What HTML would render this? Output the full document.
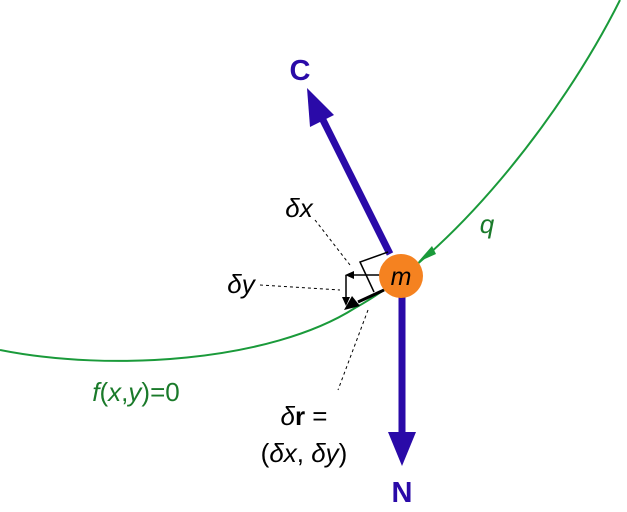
<!DOCTYPE html><html><head><style>body{margin:0;background:#fff}svg{display:block}</style></head><body>
<svg width="627" height="512" xmlns="http://www.w3.org/2000/svg" font-family="Liberation Sans, sans-serif">
<path d="M0,350 C110,372 270,362 355,308 C450,256 560,120 620,0" fill="none" stroke="#1a9a3a" stroke-width="2"/>
<polygon points="418,262 432,246 436,254" fill="#1a9a3a"/>
<line x1="390" y1="254" x2="322" y2="118" stroke="#2a0aa8" stroke-width="7"/>
<polygon points="307,88 334,115 310,127" fill="#2a0aa8"/>
<line x1="402" y1="296" x2="402" y2="438" stroke="#2a0aa8" stroke-width="7"/>
<polygon points="388,432 416,432 402,466" fill="#2a0aa8"/>
<g stroke="#000" stroke-width="1" stroke-dasharray="3,3" fill="none">
<line x1="315" y1="220" x2="350" y2="265"/>
<line x1="260" y1="285" x2="340" y2="290"/>
<line x1="368" y1="310" x2="338" y2="390"/>
</g>
<g stroke="#000" stroke-width="1.5" fill="none">
<polyline points="388,252 360,262 374,292"/>
<line x1="380" y1="275" x2="352" y2="275"/>
<line x1="346" y1="275" x2="346" y2="300"/>
<line x1="384" y1="290" x2="358" y2="302" stroke-width="3"/>
</g>
<polygon points="345,275 354,271 354,279" fill="#000"/>
<polygon points="346,306 342,297 350,297" fill="#000"/>
<polygon points="344,310 352,296 360,306" fill="#000"/>
<circle cx="401" cy="276" r="22" fill="#f58220"/>
<text x="401" y="285" font-size="25" font-style="italic" text-anchor="middle">m</text>
<text x="300" y="80" font-size="29" font-weight="bold" fill="#2a0aa8" text-anchor="middle">C</text>
<text x="402" y="502" font-size="29" font-weight="bold" fill="#2a0aa8" text-anchor="middle">N</text>
<text x="487" y="233" font-size="26" font-style="italic" fill="#1a7a2a" text-anchor="middle">q</text>
<text x="299" y="217" font-size="26" font-style="italic" text-anchor="middle">δx</text>
<text x="241" y="293" font-size="26" font-style="italic" text-anchor="middle">δy</text>
<text x="136" y="401" font-size="26" fill="#1a7a2a" text-anchor="middle"><tspan font-style="italic">f</tspan>(<tspan font-style="italic">x</tspan>,<tspan font-style="italic">y</tspan>)=0</text>
<text x="304" y="425" font-size="26" text-anchor="middle"><tspan font-style="italic">δ</tspan><tspan font-weight="bold">r</tspan> =</text>
<text x="304" y="462" font-size="26" text-anchor="middle">(<tspan font-style="italic">δx</tspan>, <tspan font-style="italic">δy</tspan>)</text>
</svg></body></html>
